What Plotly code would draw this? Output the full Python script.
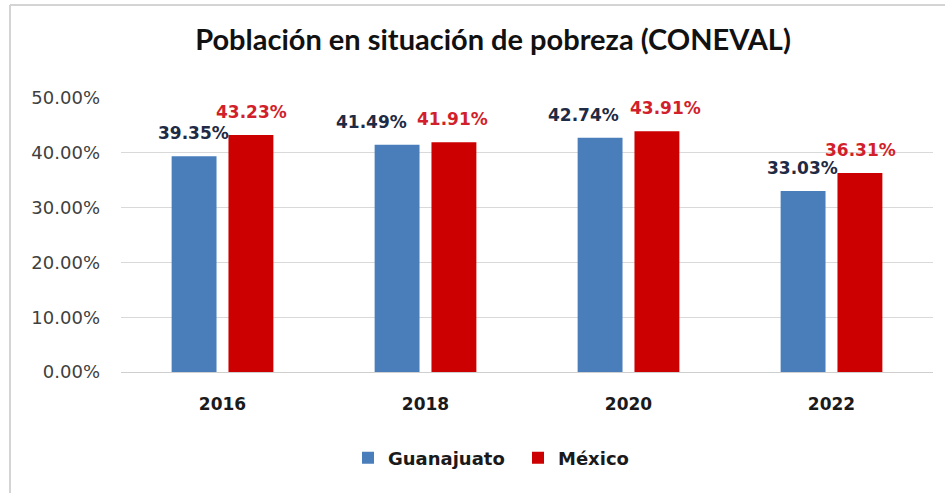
import plotly.graph_objects as go

years = ["2016", "2018", "2020", "2022"]
guanajuato = [39.35, 41.49, 42.74, 33.03]
mexico = [43.23, 41.91, 43.91, 36.31]
series_names = ["Guanajuato", "México"]
y_ticks = [0, 10, 20, 30, 40, 50]
y_tick_labels = ["0.00%", "10.00%", "20.00%", "30.00%", "40.00%", "50.00%"]

BLUE = "#4a7ebb"
RED = "#cc0000"
BLUE_TXT = "#1f2a44"
RED_TXT = "#d21f2c"

# plot area geometry (px)
W, H = 950, 493
L, R, T, B = 121, 17, 98, 121
PW, PH = W - L - R, H - T - B

fig = go.Figure()
fig.add_trace(go.Bar(x=years, y=guanajuato, name=series_names[0],
                     marker=dict(color=BLUE, line=dict(width=0))))
fig.add_trace(go.Bar(x=years, y=mexico, name=series_names[1],
                     marker=dict(color=RED, line=dict(width=0))))

blue_nudge = [0, -25, -16, 0]
red_nudge = [0, -2, 8, 0]
ann = []
for i, yr in enumerate(years):
    # category axes take the serial index of the category for annotations
    ann.append(dict(x=i, y=guanajuato[i], xref="x", yref="y",
                    text=f"{guanajuato[i]:.2f}%", showarrow=False,
                    xshift=-29 + blue_nudge[i], yshift=11, yanchor="bottom",
                    font=dict(family="DejaVu Sans", size=17, color=BLUE_TXT, weight="bold")))
    ann.append(dict(x=i, y=mexico[i], xref="x", yref="y",
                    text=f"{mexico[i]:.2f}%", showarrow=False,
                    xshift=29 + red_nudge[i], yshift=11, yanchor="bottom",
                    font=dict(family="DejaVu Sans", size=17, color=RED_TXT, weight="bold")))

def px_x(p):
    return (p - L) / PW

def px_y(p):
    return (H - B - p) / PH

shapes = [
    dict(type="line", xref="paper", yref="paper", x0=px_x(10), x1=px_x(945),
         y0=px_y(5), y1=px_y(5), line=dict(color="#d4d4d4", width=2)),
    dict(type="line", xref="paper", yref="paper", x0=px_x(10), x1=px_x(10),
         y0=px_y(5), y1=px_y(493), line=dict(color="#d4d4d4", width=2)),
]

fig.update_layout(
    width=W, height=H,
    margin=dict(l=L, r=R, t=T, b=B, pad=0),
    paper_bgcolor="white", plot_bgcolor="white",
    barmode="group", bargap=0.44, bargroupgap=0.21,
    title=dict(text="Población en situación de pobreza (CONEVAL)",
               x=px_x(493), xref="paper", xanchor="center",
               y=1 - 40 / H, yanchor="middle",
               font=dict(family="Lato", size=29, color="#111111", weight="bold")),
    font=dict(family="DejaVu Sans"),
    showlegend=True,
    legend=dict(orientation="h", x=px_x(348), xanchor="left", y=px_y(458), yanchor="middle",
                font=dict(family="DejaVu Sans", size=18, color="#1a1a1a", weight="bold"),
                itemwidth=30, entrywidth=125, entrywidthmode="pixels",
                traceorder="normal", bgcolor="rgba(0,0,0,0)"),
    annotations=ann,
    shapes=shapes,
)
fig.update_xaxes(type="category", range=[-0.5, len(years) - 0.5],
                 showgrid=False, showline=False, ticks="", ticklabelstandoff=20,
                 tickfont=dict(family="DejaVu Sans", size=17, color="#1a1a1a", weight="bold"))
fig.update_yaxes(range=[0, 50], tickvals=y_ticks, ticktext=y_tick_labels,
                 showgrid=True, gridcolor="#d9d9d9", gridwidth=1,
                 zeroline=True, zerolinecolor="#cfcfcf", zerolinewidth=1,
                 showline=False, ticks="", ticklabelstandoff=20,
                 tickfont=dict(family="DejaVu Sans", size=18, color="#404040"))

fig.write_html("out.html", config={"displayModeBar": False},
               post_script="document.body.style.margin='0px';")
